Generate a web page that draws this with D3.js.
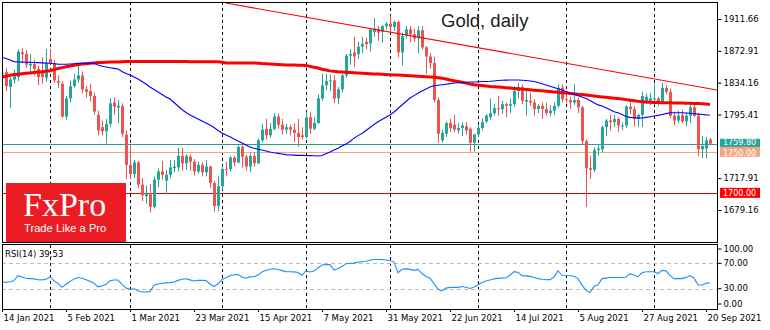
<!DOCTYPE html>
<html><head><meta charset="utf-8">
<script src="https://cdn.jsdelivr.net/npm/d3@7"></script>
<style>
html,body{margin:0;padding:0;background:#fff;}
svg{display:block;}
text{font-family:"DejaVu Sans",sans-serif;}
</style></head><body>
<svg id="c" width="770" height="330"></svg>
<script>
const dates = [
"2021-01-14","2021-01-15","2021-01-18","2021-01-19","2021-01-20","2021-01-21","2021-01-22","2021-01-25","2021-01-26","2021-01-27","2021-01-28","2021-01-29",
"2021-02-01","2021-02-02","2021-02-03","2021-02-04","2021-02-05","2021-02-08","2021-02-09","2021-02-10","2021-02-11","2021-02-12","2021-02-15","2021-02-16","2021-02-17","2021-02-18","2021-02-19","2021-02-22","2021-02-23","2021-02-24","2021-02-25","2021-02-26",
"2021-03-01","2021-03-02","2021-03-03","2021-03-04","2021-03-05","2021-03-08","2021-03-09","2021-03-10","2021-03-11","2021-03-12","2021-03-15","2021-03-16","2021-03-17","2021-03-18","2021-03-19","2021-03-22","2021-03-23","2021-03-24","2021-03-25","2021-03-26","2021-03-29","2021-03-30","2021-03-31",
"2021-04-01","2021-04-05","2021-04-06","2021-04-07","2021-04-08","2021-04-09","2021-04-12","2021-04-13","2021-04-14","2021-04-15","2021-04-16","2021-04-19","2021-04-20","2021-04-21","2021-04-22","2021-04-23","2021-04-26","2021-04-27","2021-04-28","2021-04-29","2021-04-30",
"2021-05-03","2021-05-04","2021-05-05","2021-05-06","2021-05-07","2021-05-10","2021-05-11","2021-05-12","2021-05-13","2021-05-14","2021-05-17","2021-05-18","2021-05-19","2021-05-20","2021-05-21","2021-05-24","2021-05-25","2021-05-26","2021-05-27","2021-05-28","2021-05-31",
"2021-06-01","2021-06-02","2021-06-03","2021-06-04","2021-06-07","2021-06-08","2021-06-09","2021-06-10","2021-06-11","2021-06-14","2021-06-15","2021-06-16","2021-06-17","2021-06-18","2021-06-21","2021-06-22","2021-06-23","2021-06-24","2021-06-25","2021-06-28","2021-06-29","2021-06-30",
"2021-07-01","2021-07-02","2021-07-05","2021-07-06","2021-07-07","2021-07-08","2021-07-09","2021-07-12","2021-07-13","2021-07-14","2021-07-15","2021-07-16","2021-07-19","2021-07-20","2021-07-21","2021-07-22","2021-07-23","2021-07-26","2021-07-27","2021-07-28","2021-07-29","2021-07-30",
"2021-08-02","2021-08-03","2021-08-04","2021-08-05","2021-08-06","2021-08-09","2021-08-10","2021-08-11","2021-08-12","2021-08-13","2021-08-16","2021-08-17","2021-08-18","2021-08-19","2021-08-20","2021-08-23","2021-08-24","2021-08-25","2021-08-26","2021-08-27","2021-08-30","2021-08-31",
"2021-09-01","2021-09-02","2021-09-03","2021-09-06","2021-09-07","2021-09-08","2021-09-09","2021-09-10","2021-09-13","2021-09-14","2021-09-15","2021-09-16","2021-09-17","2021-09-20","2021-09-21"];

const open = [1845,1847,1829,1838,1841,1871,1869,1855,1857,1851,1846,1840,
1863,1858,1836,1833,1793,1815,1830,1838,1843,1826,1824,1818,1795,1780,1775,1784,1810,1804,1806,1771,
1734,1723,1737,1710,1696,1700,1683,1716,1726,1715,1722,1730,1731,1745,1736,1744,1738,1726,1734,1725,1732,1712,1684,
1708,1729,1729,1743,1737,1756,1744,1732,1745,1736,1764,1778,1770,1778,1793,1783,1777,1780,1777,1773,1770,
1768,1792,1778,1785,1815,1831,1836,1837,1815,1826,1843,1867,1871,1869,1878,1884,1882,1896,1900,1896,1903,
1906,1902,1908,1871,1891,1899,1893,1888,1898,1877,1866,1858,1813,1764,1772,1785,1783,1776,1779,1781,1778,1761,
1771,1779,1787,1792,1797,1803,1802,1808,1806,1808,1824,1829,1811,1812,1810,1802,1806,1802,1797,1800,1806,1828,
1814,1813,1810,1813,1804,1763,1730,1728,1752,1753,1780,1788,1786,1790,1781,1782,1805,1802,1790,1795,1812,1812,
1814,1815,1809,1828,1823,1794,1788,1795,1787,1794,1804,1794,1753,1754,1765];
const high = [1855,1852,1842,1850,1875,1876,1874,1869,1862,1855,1865,1875,
1875,1862,1843,1836,1818,1837,1845,1855,1848,1830,1833,1822,1800,1788,1790,1815,1816,1813,1809,1776,
1759,1740,1739,1718,1709,1711,1720,1730,1739,1728,1740,1740,1755,1755,1747,1747,1741,1738,1737,1740,1733,1714,1720,
1733,1738,1745,1745,1758,1759,1746,1749,1749,1766,1784,1790,1785,1797,1797,1790,1784,1783,1785,1790,1780,
1799,1798,1792,1820,1845,1845,1844,1843,1829,1845,1869,1875,1890,1884,1890,1889,1900,1913,1903,1904,1908,
1916,1910,1910,1895,1903,1903,1900,1903,1903,1879,1870,1866,1816,1777,1787,1790,1795,1785,1786,1786,1780,1772,
1783,1791,1796,1815,1808,1818,1812,1810,1815,1830,1834,1832,1825,1822,1814,1808,1810,1810,1807,1810,1832,1832,
1821,1817,1832,1816,1806,1765,1745,1755,1758,1782,1790,1795,1795,1792,1786,1807,1810,1806,1796,1823,1821,1822,
1833,1817,1834,1831,1827,1799,1800,1801,1798,1809,1808,1797,1769,1768,1767];
const low = [1836,1824,1803,1833,1836,1858,1852,1847,1843,1831,1833,1835,
1856,1834,1828,1791,1789,1810,1828,1834,1821,1816,1811,1795,1770,1770,1760,1780,1795,1785,1768,1717,
1717,1718,1706,1690,1687,1676,1681,1707,1716,1699,1718,1725,1726,1727,1728,1727,1721,1723,1720,1720,1706,1677,1678,
1704,1720,1726,1732,1736,1731,1727,1725,1732,1735,1761,1765,1767,1776,1778,1771,1772,1770,1762,1756,1765,
1766,1772,1776,1784,1812,1825,1824,1809,1808,1822,1840,1856,1853,1863,1870,1875,1872,1890,1885,1883,1899,
1895,1897,1865,1855,1888,1883,1884,1870,1874,1845,1851,1810,1761,1761,1768,1774,1774,1772,1769,1771,1750,1750,
1768,1776,1785,1789,1794,1794,1796,1792,1797,1805,1815,1808,1794,1806,1794,1797,1790,1794,1793,1795,1804,1810,
1809,1802,1807,1797,1759,1683,1717,1725,1745,1749,1769,1776,1780,1774,1776,1779,1796,1781,1780,1780,1808,1807,
1807,1806,1808,1820,1791,1782,1785,1785,1781,1785,1792,1745,1742,1742,1758];
const close = [1846,1830,1838,1842,1872,1869,1856,1857,1851,1841,1841,1857,
1858,1837,1834,1793,1815,1830,1838,1843,1826,1823,1818,1799,1776,1775,1784,1809,1805,1806,1772,1734,
1723,1737,1710,1697,1700,1683,1716,1726,1722,1722,1731,1732,1745,1736,1745,1738,1726,1734,1725,1732,1712,1684,1708,
1729,1728,1743,1737,1756,1744,1732,1745,1736,1764,1777,1770,1778,1793,1783,1777,1780,1777,1773,1768,1768,
1792,1778,1785,1815,1831,1836,1837,1815,1826,1843,1867,1869,1866,1878,1881,1881,1899,1900,1895,1903,1906,
1902,1908,1871,1891,1899,1893,1888,1898,1877,1866,1858,1813,1772,1773,1785,1779,1777,1779,1782,1776,1761,1771,
1779,1786,1794,1797,1803,1802,1808,1806,1808,1824,1829,1812,1813,1810,1802,1806,1802,1797,1800,1806,1828,1814,
1813,1810,1813,1804,1763,1730,1728,1752,1754,1780,1788,1786,1790,1782,1782,1805,1802,1790,1795,1818,1817,1815,
1815,1809,1828,1823,1794,1788,1794,1787,1794,1804,1794,1753,1757,1764,1759.8];

const ma200 = [1841,1842,1843,1844,1844.5,1845,1845.5,1846,1846.5,1847,1847.5,1848,
1848.7,1850,1851.5,1852.5,1853.5,1854.5,1855.3,1856,1856.8,1857.3,1857.8,1858.2,1858.6,1858.8,1859,1859.2,1859.3,1859.4,1859.6,1859.8,
1859.8,1859.8,1859.8,1859.8,1859.8,1859.8,1859.8,1859.8,1859.8,1859.8,1859.8,1859.8,1859.8,1859.8,1859.8,1859.6,1859.6,1859.6,1859.6,1859.6,1859.6,1859.6,1859.6,
1859,1858.1,1858.1,1858.1,1858.1,1858.1,1858.1,1858.1,1858.1,1857.8,1857.4,1857.2,1856.8,1856.5,1856.2,1856,1855.8,1855.7,1855.6,1855.5,1855.3,
1855.1,1854,1853,1852,1850.5,1849.5,1848.5,1848,1847.4,1847,1846.7,1846.4,1846.1,1845.9,1845.6,1845.3,1845,1844.8,1844.6,1844.3,1844,
1843.8,1843.6,1843.4,1843.2,1843,1842.7,1842.4,1842.1,1841.8,1841.5,1841.2,1840.9,1840.2,1839.5,1838.7,1837.4,1836.6,1835.7,1834.7,1833.6,1832.5,1831.7,
1831,1830.6,1830,1829.5,1829.2,1829,1828.5,1828,1827.6,1827.1,1826.7,1826.3,1825.8,1825.4,1825,1824.6,1824.2,1823.8,1823.3,1822.8,1822.4,1822,
1821.5,1821.1,1820.7,1820.2,1819.7,1819.1,1818.5,1817.9,1817.3,1816.8,1816.3,1815.8,1815.3,1814.8,1814.2,1813.5,1812.8,1812.2,1811.5,1811,1810.6,1810.3,
1810,1809.9,1809.8,1809.7,1809.6,1809.5,1809.4,1809.3,1809.2,1809,1808.9,1808.7,1808.4,1808.1,1807.7];

const ma50 = [1865.2,1863.6,1861.8,1859.8,1859.3,1859.2,1859.1,1858.9,1858.7,1858.5,1858.2,1858,
1857.7,1857.2,1856.7,1856.5,1856.6,1856.9,1857.2,1857.6,1857.7,1857.7,1857.7,1857.7,1855.7,1854.1,1853.2,1852.4,1851.6,1850.8,1847.8,1845.3,
1843.5,1841.1,1838.6,1835.6,1832.5,1828.9,1825.8,1822.8,1819.8,1816.7,1814.3,1810,1805.8,1801.5,1797.8,1794.8,1792.4,1790,1787.5,1785.1,1782.6,1779.6,1776,
1772.9,1770.5,1768.4,1765.6,1763.2,1760.7,1758.3,1755.8,1754.4,1753.2,1752.2,1751,1749.8,1748.8,1748.1,1747.3,1746.6,1746.1,1745.9,1745.7,1745.6,
1745.5,1745.3,1745.1,1744.9,1745.5,1747.6,1749.8,1752.2,1754.3,1757.1,1759.5,1762.5,1766.6,1769.7,1772.3,1776,1779.6,1783.2,1786.5,1789.3,1792,
1794.8,1798.5,1802.7,1807,1811.2,1815.5,1818.4,1821.3,1824,1826.4,1828.9,1830.3,1831.1,1831.7,1832.3,1833,1833.8,1834.1,1834.4,1834.6,1834.9,1835,
1835.2,1835.5,1835.6,1835.8,1836.2,1836.7,1837.1,1837.3,1837.4,1837.4,1837.4,1837.1,1836.7,1836.2,1835.5,1834.4,1832.9,1831.3,1829.7,1828.2,1826.7,1825.2,
1823.3,1821.6,1820,1818.4,1816.8,1814.9,1812.5,1809.7,1807.1,1805.8,1803.6,1801.1,1798.7,1797.5,1795.3,1792.9,1791.9,1791.4,1791,1791.2,1791.9,1792.7,
1793.6,1794.3,1795.4,1796.5,1797.6,1797.6,1797.6,1797.5,1797.2,1796.9,1796.4,1795.9,1795.4,1795,1794.8];

const rsi = [41,40,41,43,50.5,48.5,46.5,46,45.5,44.2,44,45,
49,42.5,38.5,32.2,37,41.5,45.5,47.7,46.5,44.2,41.8,38.6,33,34.5,37,42.5,43.7,43.7,37,31,
29,30,27,25,24.8,25.5,35.5,37.5,38.7,39.3,39.7,40.6,43.2,45,45.8,44,42.3,43.2,43.4,43,37.5,33.5,37.8,
44.5,47.5,50.5,52,52.5,48.5,46.5,48.7,49,51.5,56.4,59,60.8,61.6,60.2,58.5,57,56.7,56.5,55.5,51.2,
58,56.5,58,63,67.3,68,68,59.5,62,65,69.5,70,70.4,71.8,72.8,73.4,75,76,76,76,75.3,
74.5,72,55.2,60.6,61.3,60.5,58.9,60.5,54,49.2,46.5,38,29.5,26.8,31,32.2,32.2,32.2,33.6,32.5,30.5,32.6,
36.3,39.7,42.2,43.9,45.6,46.3,46.8,47.3,51.3,56.9,55.8,50.7,50.3,49.5,47.8,46,45,44.2,44.3,48.5,58,51.2,
50.8,50.5,49.6,46,35.8,27.4,24,33.8,35.8,46,46.8,47.7,47.7,47.7,47.7,48.6,53.4,51.8,49,55.2,56.7,56.7,
56.7,54,58.9,58.2,50.6,46,46,46,47.9,50.5,46.9,35.8,35.8,38.5,39.53];

const priceTicks = [1911.66,1872.91,1834.16,1795.41,1717.91,1679.16];
const rsiTicks = [100,70,30,0];
const rsiLevels = [70,30];
const labelDates = ["2021-01-14","2021-02-05","2021-03-01","2021-03-23","2021-04-15","2021-05-07","2021-05-31","2021-06-22","2021-07-14","2021-08-05","2021-08-27","2021-09-20"];
const labelTexts = ["14 Jan 2021","5 Feb 2021","1 Mar 2021","23 Mar 2021","15 Apr 2021","7 May 2021","31 May 2021","22 Jun 2021","14 Jul 2021","5 Aug 2021","27 Aug 2021","20 Sep 2021"];
const separatorDates = ["2021-02-01","2021-03-01","2021-04-01","2021-05-03","2021-06-01","2021-07-01","2021-08-02","2021-09-01"];
const trendDates = ["2021-04-05","2021-09-21"];
const trendValues = [1931.1,1826.7];
const levelValues = [1759.80,1750.00,1700.00];
const levelColors = ["#26a69a","#f4a582","#ff0000"];
const levelLineColors = ["#2a9d8f","#f4a582","#e00000"];
const levelTextShift = [-1.5,1.5,0];

const svg = d3.select("#c");
const L = 2, R = 717, mT = 2, mB = 242, rT = 244.5, rB = 309;

const x = d3.scalePoint().domain(dates).range([2, 710]);
const y = d3.scaleLinear().domain([1640.2, 1932.35]).range([mB, mT]);
const yr = d3.scaleLinear().domain([0, 100]).range([307.8, 244.3]);

const defs = svg.append("defs");
defs.append("clipPath").attr("id","cm").append("rect").attr("x",L).attr("y",mT).attr("width",R-L).attr("height",mB-mT);
defs.append("clipPath").attr("id","cr").append("rect").attr("x",L).attr("y",rT).attr("width",R-L).attr("height",rB-rT);

const main = svg.append("g").attr("clip-path","url(#cm)");
const sub = svg.append("g").attr("clip-path","url(#cr)");

// period separators
[[main,mT,mB],[sub,rT,rB]].forEach(([g,a,b]) => {
  g.selectAll(null).data(separatorDates).enter().append("line")
    .attr("x1",d=>x(d)+0.5).attr("x2",d=>x(d)+0.5).attr("y1",a).attr("y2",b)
    .attr("stroke","#000").attr("stroke-width",1).attr("stroke-dasharray","3,3")
    .attr("shape-rendering","crispEdges");
});

// horizontal levels
main.selectAll(null).data(levelValues).enter().append("line")
  .attr("x1",L).attr("x2",R).attr("y1",d=>Math.round(y(d))+0.5).attr("y2",d=>Math.round(y(d))+0.5)
  .attr("stroke",(d,i)=>levelLineColors[i]).attr("stroke-width",1.2);

// candles
const idx = d3.range(dates.length);
const up = "#26a69a", dn = "#ef5350";
main.selectAll(null).data(idx).enter().append("line")
  .attr("x1",i=>x(dates[i])+0.5).attr("x2",i=>x(dates[i])+0.5)
  .attr("y1",i=>y(high[i])).attr("y2",i=>y(low[i]))
  .attr("stroke",i=>close[i]>=open[i]?up:dn).attr("stroke-width",1);
main.selectAll(null).data(idx).enter().append("rect")
  .attr("x",i=>x(dates[i])-1).attr("width",3)
  .attr("y",i=>y(Math.max(open[i],close[i])))
  .attr("height",i=>Math.max(1, Math.abs(y(open[i])-y(close[i]))))
  .attr("fill",i=>close[i]>=open[i]?up:dn);

// moving averages
const lineOf = arr => d3.line().x((d,i)=>x(dates[i])).y(d=>y(d))(arr);
main.append("path").attr("d",lineOf(ma200)).attr("fill","none").attr("stroke","#ff0000").attr("stroke-width",3);
main.append("path").attr("d",lineOf(ma50)).attr("fill","none").attr("stroke","#0000ff").attr("stroke-width",1.1);

// trend line (extended to the right edge)
{
  const x1 = x(trendDates[0]), y1 = y(trendValues[0]);
  const x2 = x(trendDates[1]), y2 = y(trendValues[1]);
  const yEnd = y1 + (y2-y1)*(R-x1)/(x2-x1);
  main.append("line").attr("x1",x1).attr("y1",y1).attr("x2",R).attr("y2",yEnd)
    .attr("stroke","#ff0000").attr("stroke-width",1.2);
}

// title
svg.append("text").attr("x",441).attr("y",27).text("Gold, daily")
  .style("font-family","'Liberation Sans',Arial,sans-serif").style("font-size","18.5px").attr("fill","#1c1c24");

// logo
const logo = svg.append("g");
logo.append("rect").attr("x",6).attr("y",183).attr("width",120).attr("height",59).attr("fill","#ec1c24");
logo.append("text").attr("x",23).attr("y",216).text("FxPro").attr("fill","#fff")
  .style("font-family","'Liberation Serif','DejaVu Serif',serif").style("font-size","34px");
logo.append("text").attr("x",24).attr("y",231.5).text("Trade Like a Pro").attr("fill","#fff")
  .style("font-family","'Liberation Sans',Arial,sans-serif").style("font-size","11.2px");

// RSI panel
sub.selectAll(null).data(rsiLevels).enter().append("line")
  .attr("x1",L).attr("x2",R).attr("y1",d=>Math.round(yr(d))+0.5).attr("y2",d=>Math.round(yr(d))+0.5)
  .attr("stroke","#bdbdbd").attr("stroke-dasharray","4,3").attr("shape-rendering","crispEdges");
sub.append("path").attr("d",d3.line().x((d,i)=>x(dates[i])).y(d=>yr(d))(rsi))
  .attr("fill","none").attr("stroke","#1e90ff").attr("stroke-width",1.1);
svg.append("text").attr("x",5).attr("y",256.5).text("RSI(14) " + rsi[rsi.length-1].toFixed(2))
  .style("font-size","8.5px").attr("fill","#000");

// frames
svg.append("rect").attr("x",L+0.5).attr("y",mT+0.5).attr("width",R-L).attr("height",mB-mT)
  .attr("fill","none").attr("stroke","#000").attr("shape-rendering","crispEdges");
svg.append("rect").attr("x",L+0.5).attr("y",rT).attr("width",R-L).attr("height",rB-rT)
  .attr("fill","none").attr("stroke","#000").attr("shape-rendering","crispEdges");

// price axis
const ya = svg.append("g").attr("transform",`translate(${R+0.5},0)`)
  .call(d3.axisRight(y).tickValues(priceTicks).tickSize(4).tickSizeOuter(0).tickPadding(2).tickFormat(d=>d.toFixed(2)));
ya.select(".domain").remove();
ya.selectAll("text").style("font-size","8.5px").style("font-family","'DejaVu Sans',sans-serif").attr("fill","#000");
ya.selectAll("line").attr("stroke","#000");

// level labels
const lv = svg.append("g");
lv.selectAll(null).data(levelValues).enter().append("rect")
  .attr("x",R+3).attr("width",40).attr("y",d=>y(d)-5).attr("height",10)
  .attr("fill",(d,i)=>levelColors[i]);
lv.selectAll(null).data(levelValues).enter().append("text")
  .attr("x",R+6).attr("y",(d,i)=>y(d)+levelTextShift[i]).attr("dy","0.35em").text(d=>d.toFixed(2))
  .style("font-size","8px").attr("fill","#fff");

// RSI axis
const ra = svg.append("g").attr("transform",`translate(${R+0.5},0)`)
  .call(d3.axisRight(yr).tickValues(rsiTicks).tickSize(4).tickSizeOuter(0).tickPadding(2).tickFormat(d=>d.toFixed(2)));
ra.select(".domain").remove();
ra.selectAll(".tick").attr("transform",d=>`translate(0,${Math.min(304,Math.max(249,yr(d)))})`);
ra.selectAll("text").style("font-size","8.5px").style("font-family","'DejaVu Sans',sans-serif").attr("fill","#000");
ra.selectAll("line").attr("stroke","#000");
// axis vertical lines
svg.append("line").attr("x1",R+0.5).attr("x2",R+0.5).attr("y1",mT).attr("y2",mB).attr("stroke","#000").attr("shape-rendering","crispEdges");
svg.append("line").attr("x1",R+0.5).attr("x2",R+0.5).attr("y1",rT).attr("y2",rB).attr("stroke","#000").attr("shape-rendering","crispEdges");

// time axis
const xa = svg.append("g").attr("transform",`translate(0,${rB})`)
  .call(d3.axisBottom(x).tickValues(labelDates).tickSize(3).tickPadding(3).tickFormat((d,i)=>labelTexts[i]));
xa.select(".domain").remove();
xa.selectAll("text").attr("text-anchor","start").attr("x",1)
  .style("font-size","8.5px").style("font-family","'DejaVu Sans',sans-serif").attr("fill","#000");
xa.selectAll("line").attr("stroke","#000");
</script>
</body></html>
